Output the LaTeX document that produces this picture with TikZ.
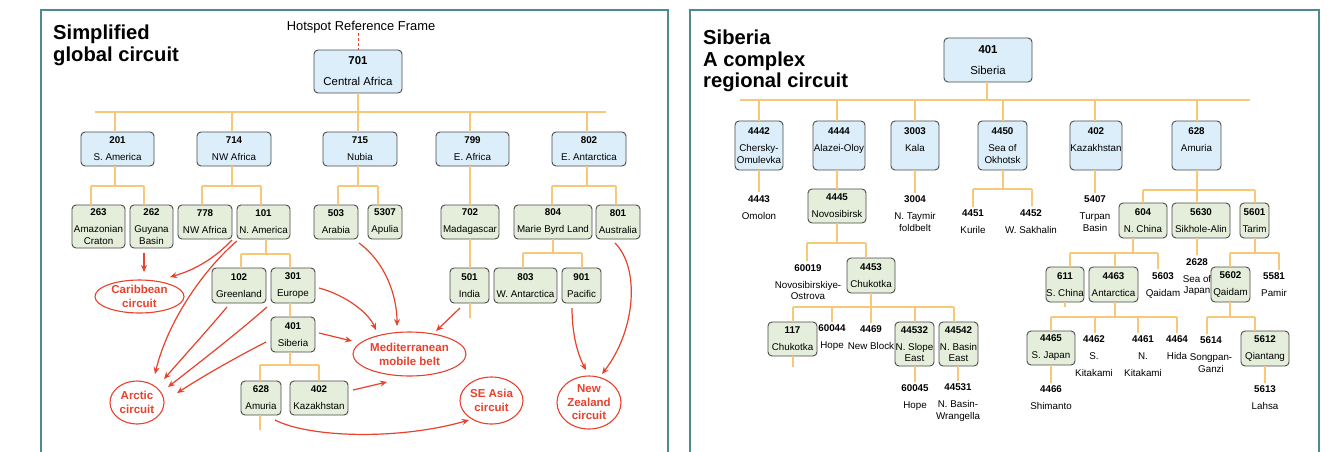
\documentclass[tikz,border=0pt]{standalone}
\usepackage{fontspec}
\setmainfont{Liberation Sans}
\usetikzlibrary{shapes.geometric,arrows.meta}
\definecolor{panelc}{HTML}{4F8A90}
\definecolor{bluef}{HTML}{DCEEF9}
\definecolor{greenf}{HTML}{E4EEDA}
\definecolor{boxd}{HTML}{4A4A4A}
\definecolor{treec}{HTML}{F7C976}
\definecolor{redc}{HTML}{E8412C}
\begin{document}
\begin{tikzpicture}[x=1pt,y=-1pt,
 bbox/.style={draw=boxd, line width=0.9pt, rounded corners=4pt, inner sep=0pt, align=center, font=\fontsize{9.8}{11.5}\selectfont},
 bluebox/.style={bbox, fill=bluef},
 greenbox/.style={bbox, fill=greenf},
 lbl/.style={inner sep=0pt, align=center, font=\fontsize{9.8}{11.5}\selectfont},
 tree/.style={draw=treec, line width=1.3pt},
 circ/.style={draw=redc, line width=1.1pt, ellipse, inner sep=-3pt, align=center, text=redc, font=\bfseries\fontsize{11.5}{14}\selectfont},
 arr/.style={draw=redc, line width=1.2pt, -{Stealth[length=7pt,width=6pt]}},
 titletext/.style={anchor=north west, inner sep=0pt, align=left, font=\bfseries\fontsize{20.2}{21.2}\selectfont},
 panel/.style={draw=panelc, line width=2pt}
]
\useasboundingbox (0,0) rectangle (1329,451);
\fill[white] (0,0) rectangle (1329,451);
\draw[panel] (41,10) rectangle (668,470);
\draw[panel] (690,10) rectangle (1319,470);

% ---------------- left panel ----------------
\node[titletext] (t1) at (53,25) {Simplified\\global circuit};
\node[inner sep=0pt, font=\fontsize{12.9}{14}\selectfont] (hs) at (361,27) {Hotspot Reference Frame};

\node[bluebox, minimum width=88, minimum height=43, font=\fontsize{11.4}{14}\selectfont] (L701) at (358,71.5) {\textbf{701}\\[7pt]Central Africa};
\draw[redc, line width=1pt, dash pattern=on 3pt off 2pt] (358,33) -- (L701.north -| 358,0);

\node[bluebox, minimum width=73, minimum height=34] (L201) at (117.5,149) {\textbf{201}\\[5.5pt]S. America};
\node[bluebox, minimum width=74, minimum height=34] (L714) at (234,149) {\textbf{714}\\[5.5pt]NW Africa};
\node[bluebox, minimum width=74, minimum height=34] (L715) at (360,149) {\textbf{715}\\[5.5pt]Nubia};
\node[bluebox, minimum width=73, minimum height=34] (L799) at (472.5,149) {\textbf{799}\\[5.5pt]E. Africa};
\node[bluebox, minimum width=74, minimum height=34] (L802) at (589,149) {\textbf{802}\\[5.5pt]E. Antarctica};

\node[greenbox, minimum width=53, minimum height=43] (L263) at (98.5,226.5) {\textbf{263}\\[5.5pt]Amazonian\\Craton};
\node[greenbox, minimum width=43, minimum height=43] (L262) at (151.5,226.5) {\textbf{262}\\[5.5pt]Guyana\\Basin};
\node[greenbox, minimum width=54, minimum height=34] (L778) at (205,222) {\textbf{778}\\[5.5pt]NW Africa};
\node[greenbox, minimum width=53, minimum height=34] (L101) at (263.5,222) {\textbf{101}\\[5.5pt]N. America};
\node[greenbox, minimum width=44, minimum height=34] (L503) at (336,222) {\textbf{503}\\[5.5pt]Arabia};
\node[greenbox, minimum width=34, minimum height=34] (L5307) at (385,222) {\textbf{5307}\\[5.5pt]Apulia};
\node[greenbox, minimum width=58, minimum height=34] (L702) at (470,222) {\textbf{702}\\[5.5pt]Madagascar};
\node[greenbox, minimum width=78, minimum height=34] (L804) at (553,222) {\textbf{804}\\[5.5pt]Marie Byrd Land};
\node[greenbox, minimum width=44, minimum height=34] (L801) at (618,222) {\textbf{801}\\[5.5pt]Australia};

\node[greenbox, minimum width=54, minimum height=35] (L102) at (239,285.5) {\textbf{102}\\[5.5pt]Greenland};
\node[greenbox, minimum width=44, minimum height=35] (L301) at (293,285.5) {\textbf{301}\\[5.5pt]Europe};
\node[greenbox, minimum width=44, minimum height=35] (L401) at (293,334.5) {\textbf{401}\\[5.5pt]Siberia};
\node[greenbox, minimum width=40, minimum height=34] (L628) at (261,398) {\textbf{628}\\[5.5pt]Amuria};
\node[greenbox, minimum width=58, minimum height=34] (L402) at (319,398) {\textbf{402}\\[5.5pt]Kazakhstan};
\node[greenbox, minimum width=39, minimum height=35] (L501) at (469.5,285.5) {\textbf{501}\\[5.5pt]India};
\node[greenbox, minimum width=63, minimum height=35] (L803) at (525.5,285.5) {\textbf{803}\\[5.5pt]W. Antarctica};
\node[greenbox, minimum width=39, minimum height=35] (L901) at (581.5,285.5) {\textbf{901}\\[5.5pt]Pacific};

% left tree
\draw[tree] (L701.south) -- (358,112);
\draw[tree] (95,112) -- (606,112);
\draw[tree] (115,112) -- (L201.north -| 115,0);
\draw[tree] (232,112) -- (L714.north -| 232,0);
\draw[tree] (358,112) -- (L715.north -| 358,0);
\draw[tree] (470,112) -- (L799.north -| 470,0);
\draw[tree] (587,112) -- (L802.north -| 587,0);
\draw[tree] (L201.south -| 115,0) -- (115,186);
\draw[tree] (91,186) -- (144,186);
\draw[tree] (91,186) -- (L263.north -| 91,0);
\draw[tree] (144,186) -- (L262.north -| 144,0);
\draw[tree] (L714.south -| 232,0) -- (232,186);
\draw[tree] (202,186) -- (261,186);
\draw[tree] (202,186) -- (L778.north -| 202,0);
\draw[tree] (261,186) -- (L101.north -| 261,0);
\draw[tree] (L715.south -| 358,0) -- (358,186);
\draw[tree] (338,186) -- (378,186);
\draw[tree] (338,186) -- (L503.north -| 338,0);
\draw[tree] (378,186) -- (L5307.north -| 378,0);
\draw[tree] (L799.south -| 470,0) -- (L702.north -| 470,0);
\draw[tree] (L802.south -| 587,0) -- (587,186);
\draw[tree] (552,186) -- (616,186);
\draw[tree] (552,186) -- (L804.north -| 552,0);
\draw[tree] (616,186) -- (L801.north -| 616,0);
\draw[tree] (L101.south -| 266,0) -- (266,254);
\draw[tree] (241,254) -- (290,254);
\draw[tree] (241,254) -- (L102.north -| 241,0);
\draw[tree] (290,254) -- (L301.north -| 290,0);
\draw[tree] (L301.south -| 290,0) -- (L401.north -| 290,0);
\draw[tree] (L401.south -| 290,0) -- (290,365);
\draw[tree] (260,365) -- (319,365);
\draw[tree] (260,365) -- (L628.north -| 260,0);
\draw[tree] (319,365) -- (L402.north -| 319,0);
\draw[tree] (L628.south -| 260,0) -- ++(0,15);
\draw[tree] (L702.south -| 470,0) -- (L501.north -| 470,0);
\draw[tree] (L501.south -| 470,0) -- ++(0,15);
\draw[tree] (L804.south -| 553,0) -- (553,253);
\draw[tree] (523,253) -- (582,253);
\draw[tree] (523,253) -- (L803.north -| 523,0);
\draw[tree] (582,253) -- (L901.north -| 582,0);

% circuits
\node[circ, minimum width=89, minimum height=33] (carib) at (139.5,296.5) {Caribbean\\circuit};
\node[circ, minimum width=54, minimum height=43] (arctic) at (137,402.5) {Arctic\\circuit};
\node[circ, minimum width=113, minimum height=44] (med) at (409.5,354) {Mediterranean\\mobile belt};
\node[circ, minimum width=63, minimum height=47] (seasia) at (491.5,400.5) {SE Asia\\circuit};
\node[circ, minimum width=64, minimum height=53, font=\bfseries\fontsize{11.5}{13.5}\selectfont] (nz) at (589,402.5) {New\\Zealand\\circuit};

\draw[arr] (144,253) -- (144,272);
\draw[arr] (232,240) .. controls (215,258) and (195,270) .. (170,277);
\draw[arr] (237,241) .. controls (205,268) and (168,320) .. (155,374);
\draw[arr] (227,307) .. controls (205,333) and (185,355) .. (164,379);
\draw[arr] (267,307) .. controls (235,335) and (200,362) .. (168,387);
\draw[arr] (266,342) .. controls (235,358) and (205,375) .. (177,393);
\draw[arr] (319,288) .. controls (345,295) and (368,312) .. (376,330);
\draw[arr] (319,333) -- (352,341);
\draw[arr] (359,243) .. controls (385,262) and (397,295) .. (397,326);
\draw[arr] (460,308) -- (436,331);
\draw[arr] (353,390) -- (387,382);
\draw[arr] (275,420) .. controls (310,438) and (400,440) .. (469,420);
\draw[arr] (572,308) .. controls (572,335) and (578,355) .. (586,370);
\draw[arr] (615,243) .. controls (640,268) and (636,330) .. (602,374);

% ---------------- right panel ----------------
\node[titletext, font=\bfseries\fontsize{20.2}{21.5}\selectfont] (t2) at (703,30) {Siberia\\A complex\\regional circuit};

\node[bluebox, minimum width=88, minimum height=44, font=\fontsize{11.4}{14}\selectfont] (R401) at (988,60) {\textbf{401}\\[7pt]Siberia};

\node[bluebox, minimum width=48, minimum height=49] (R4442) at (759,145.5) {\textbf{4442}\\[5.5pt]Chersky-\\Omulevka};
\node[bluebox, minimum width=52, minimum height=49] (R4444) at (839,145.5) {\textbf{4444}\\[5.5pt]Alazei-Oloy\\~};
\node[bluebox, minimum width=48, minimum height=49] (R3003) at (915,145.5) {\textbf{3003}\\[5.5pt]Kala\\~};
\node[bluebox, minimum width=49, minimum height=49] (R4450) at (1002.5,145.5) {\textbf{4450}\\[5.5pt]Sea of\\Okhotsk};
\node[bluebox, minimum width=52, minimum height=49] (R402) at (1096,145.5) {\textbf{402}\\[5.5pt]Kazakhstan\\~};
\node[bluebox, minimum width=49, minimum height=49] (R628) at (1196.5,145.5) {\textbf{628}\\[5.5pt]Amuria\\~};

\node[greenbox, minimum width=58, minimum height=34] (R4445) at (837,206) {\textbf{4445}\\[5.5pt]Novosibirsk};
\node[greenbox, minimum width=48, minimum height=35] (R604) at (1143,220.5) {\textbf{604}\\[5.5pt]N. China};
\node[greenbox, minimum width=58, minimum height=35] (R5630) at (1201,220.5) {\textbf{5630}\\[5.5pt]Sikhole-Alin};
\node[greenbox, minimum width=29, minimum height=35] (R5601) at (1254.5,220.5) {\textbf{5601}\\[5.5pt]Tarim};
\node[greenbox, minimum width=48, minimum height=35] (R4453) at (871,275.5) {\textbf{4453}\\[5.5pt]Chukotka};
\node[greenbox, minimum width=49, minimum height=34] (R117) at (792.5,339) {\textbf{117}\\[5.5pt]Chukotka};
\node[greenbox, minimum width=39, minimum height=44] (R44532) at (914.5,344) {\textbf{44532}\\[5.5pt]N. Slope\\East};
\node[greenbox, minimum width=39, minimum height=44] (R44542) at (958.5,344) {\textbf{44542}\\[5.5pt]N. Basin\\East};
\node[greenbox, minimum width=38, minimum height=35] (R611) at (1065,284.5) {\textbf{611}\\[5.5pt]S. China};
\node[greenbox, minimum width=49, minimum height=35] (R4463) at (1113.5,284.5) {\textbf{4463}\\[5.5pt]Antarctica};
\node[lbl] (R2628) at (1197,277) {\textbf{2628}\\[5.5pt]Sea of\\Japan};
\node[greenbox, minimum width=39, minimum height=35] (R5602) at (1230.5,284.5) {\textbf{5602}\\[5.5pt]Qaidam};
\node[greenbox, minimum width=48, minimum height=34] (R4465) at (1051,348) {\textbf{4465}\\[5.5pt]S. Japan};
\node[greenbox, minimum width=48, minimum height=35] (R5612) at (1265,348.5) {\textbf{5612}\\[5.5pt]Qiantang};

\node[lbl] (R4443) at (759,207.5) {\textbf{4443}\\[5.5pt]Omolon};
\node[lbl] (R3004) at (915,213.5) {\textbf{3004}\\[5.5pt]N. Taymir\\foldbelt};
\node[lbl] (R4451) at (973,222) {\textbf{4451}\\[5.5pt]Kurile};
\node[lbl] (R4452) at (1031,221.5) {\textbf{4452}\\[5.5pt]W. Sakhalin};
\node[lbl] (R5407) at (1095,213.5) {\textbf{5407}\\[5.5pt]Turpan\\Basin};
\node[lbl] (R60019) at (808,282) {\textbf{60019}\\[5.5pt]Novosibirskiye-\\Ostrova};
\node[lbl] (R60044) at (832,338) {\textbf{60044}\\[5.5pt]Hope};
\node[lbl] (R4469) at (871,338) {\textbf{4469}\\[5.5pt]New Block};
\node[lbl] (R60045) at (915,398) {\textbf{60045}\\[5.5pt]Hope};
\node[lbl] (R44531) at (958,402.5) {\textbf{44531}\\[5.5pt]N. Basin-\\Wrangella};
\node[lbl] (R5603) at (1163,285) {\textbf{5603}\\[5.5pt]Qaidam};
\node[lbl] (R5581) at (1274,285) {\textbf{5581}\\[5.5pt]Pamir};
\node[lbl] (R4462) at (1094,356.5) {\textbf{4462}\\[5.5pt]S.\\[5.5pt]Kitakami};
\node[lbl] (R4461) at (1143,356.5) {\textbf{4461}\\[5.5pt]N.\\[5.5pt]Kitakami};
\node[lbl] (R4464) at (1177,348) {\textbf{4464}\\[5.5pt]Hida};
\node[lbl] (R5614) at (1211,354.5) {\textbf{5614}\\[5.5pt]Songpan-\\Ganzi};
\node[lbl] (R4466) at (1051,398) {\textbf{4466}\\[5.5pt]Shimanto};
\node[lbl] (R5613) at (1265,398) {\textbf{5613}\\[5.5pt]Lahsa};

% right tree
\draw[tree] (R401.south -| 987,0) -- (987,100);
\draw[tree] (740,100) -- (1250,100);
\draw[tree] (759,100) -- (R4442.north -| 759,0);
\draw[tree] (837,100) -- (R4444.north -| 837,0);
\draw[tree] (915,100) -- (R3003.north -| 915,0);
\draw[tree] (1003,100) -- (R4450.north -| 1003,0);
\draw[tree] (1095,100) -- (R402.north -| 1095,0);
\draw[tree] (1197,100) -- (R628.north -| 1197,0);
\draw[tree] (R4442.south -| 759,0) -- ([yshift=3]R4443.north -| 759,0);
\draw[tree] (R4444.south -| 837,0) -- (R4445.north -| 837,0);
\draw[tree] (R3003.south -| 915,0) -- ([yshift=3]R3004.north -| 915,0);
\draw[tree] (R4450.south -| 1003,0) -- (1003,189);
\draw[tree] (973,189) -- (1032,189);
\draw[tree] (973,189) -- ([yshift=3]R4451.north -| 973,0);
\draw[tree] (1032,189) -- ([yshift=3]R4452.north -| 1032,0);
\draw[tree] (R402.south -| 1095,0) -- ([yshift=3]R5407.north -| 1095,0);
\draw[tree] (R628.south -| 1197,0) -- (1197,190);
\draw[tree] (1143,190) -- (1255,190);
\draw[tree] (1143,190) -- (R604.north -| 1143,0);
\draw[tree] (1197,190) -- (R5630.north -| 1197,0);
\draw[tree] (1255,190) -- (R5601.north -| 1255,0);
\draw[tree] (R4445.south -| 837,0) -- (837,243);
\draw[tree] (807,243) -- (866,243);
\draw[tree] (807,243) -- ([yshift=3]R60019.north -| 807,0);
\draw[tree] (866,243) -- (R4453.north -| 866,0);
\draw[tree] (R4453.south -| 871,0) -- (871,307);
\draw[tree] (793,307) -- (954,307);
\draw[tree] (793,307) -- (R117.north -| 793,0);
\draw[tree] (832,307) -- ([yshift=3]R60044.north -| 832,0);
\draw[tree] (871,307) -- ([yshift=3]R4469.north -| 871,0);
\draw[tree] (915,307) -- (R44532.north -| 915,0);
\draw[tree] (954,307) -- (R44542.north -| 954,0);
\draw[tree] (R117.south -| 793,0) -- ++(0,11);
\draw[tree] (R44532.south -| 915,0) -- ([yshift=3]R60045.north -| 915,0);
\draw[tree] (R44542.south -| 958,0) -- ([yshift=3]R44531.north -| 958,0);
\draw[tree] (R604.south -| 1133,0) -- (1133,253);
\draw[tree] (1070,253) -- (1158,253);
\draw[tree] (1070,253) -- (R611.north -| 1070,0);
\draw[tree] (1115,253) -- (R4463.north -| 1115,0);
\draw[tree] (1158,253) -- ([yshift=3]R5603.north -| 1158,0);
\draw[tree] (R5630.south -| 1197,0) -- ([yshift=3]R2628.north -| 1197,0);
\draw[tree] (R5601.south -| 1255,0) -- (1255,253);
\draw[tree] (1230,253) -- (1279,253);
\draw[tree] (1230,253) -- (R5602.north -| 1230,0);
\draw[tree] (1279,253) -- ([yshift=3]R5581.north -| 1279,0);
\draw[tree] (R611.south -| 1065,0) -- ++(0,5);
\draw[tree] (R4463.south -| 1115,0) -- (1115,317);
\draw[tree] (1051,317) -- (1177,317);
\draw[tree] (1051,317) -- (R4465.north -| 1051,0);
\draw[tree] (1095,317) -- ([yshift=3]R4462.north -| 1095,0);
\draw[tree] (1138,317) -- ([yshift=3]R4461.north -| 1138,0);
\draw[tree] (1177,317) -- ([yshift=3]R4464.north -| 1177,0);
\draw[tree] (R5602.south -| 1230,0) -- (1230,317);
\draw[tree] (1207,317) -- (1255,317);
\draw[tree] (1207,317) -- ([yshift=3]R5614.north -| 1207,0);
\draw[tree] (1255,317) -- (R5612.north -| 1255,0);
\draw[tree] (R4465.south -| 1051,0) -- ([yshift=3]R4466.north -| 1051,0);
\draw[tree] (R5612.south -| 1265,0) -- ([yshift=3]R5613.north -| 1265,0);
\end{tikzpicture}
\end{document}
